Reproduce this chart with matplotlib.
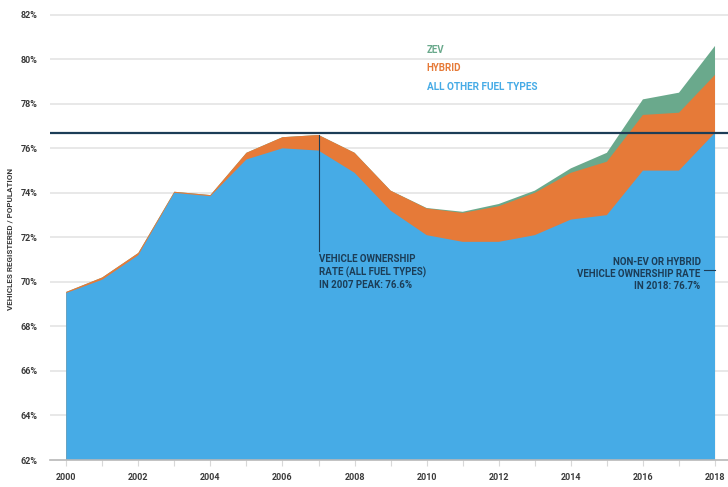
import numpy as np
import matplotlib
matplotlib.use('Agg')
import matplotlib.pyplot as plt

years = list(range(2000, 2019))
all_other = [69.5, 70.1, 71.2, 74.0, 73.85, 75.5, 76.0, 75.9, 74.9, 73.2,
             72.1, 71.8, 71.8, 72.1, 72.8, 73.0, 75.0, 75.0, 76.7]
hybrid = [0.05, 0.1, 0.1, 0.05, 0.05, 0.3, 0.5, 0.7, 0.9, 0.9,
          1.2, 1.3, 1.6, 1.9, 2.1, 2.4, 2.5, 2.6, 2.6]
zev = [0, 0, 0, 0, 0, 0, 0, 0, 0, 0,
       0.02, 0.05, 0.1, 0.1, 0.2, 0.4, 0.7, 0.9, 1.3]
peak_2007 = 76.6
rate_2018 = 76.7

c_blue = '#46abe6'
c_orange = '#e67a38'
c_green = '#6aa98c'
c_navy = '#1c3d57'
c_tick = '#3a3a3a'

plt.rcParams['font.family'] = ['Roboto', 'DejaVu Sans']

fig = plt.figure(figsize=(7.28, 4.87), dpi=100)
ax = fig.add_axes([0.0687, 0.0554, 0.9313, 0.928])

x = np.array(years)
a = np.array(all_other)
h = a + np.array(hybrid)
z = h + np.array(zev)

ax.fill_between(x, 0, z, color=c_green, lw=0, zorder=2)
ax.fill_between(x, 0, h, color=c_orange, lw=0, zorder=3)
ax.fill_between(x, 0, a, color=c_blue, lw=0, zorder=4)

for yv in range(64, 83, 2):
    ax.axhline(yv, color='#e4e4e4', lw=1.2, zorder=1)

ax.axhline(rate_2018, color=c_navy, lw=1.6, zorder=6)
ax.plot([2007, 2007], [71.4, peak_2007], color=c_navy, lw=0.8, zorder=6)
ax.plot([2017.7, 2018], [70.55, 70.55], color=c_navy, lw=0.8, zorder=6)

ax.text(2007.0, 71.25,
        'VEHICLE OWNERSHIP\nRATE (ALL FUEL TYPES)\nIN 2007 PEAK: 76.6%',
        color=c_navy, fontsize=7, fontweight='bold', va='top', ha='left',
        linespacing=1.25, zorder=7)
ax.text(2017.6, 71.1,
        'NON-EV OR HYBRID\nVEHICLE OWNERSHIP RATE\nIN 2018: 76.7%',
        color=c_navy, fontsize=7, fontweight='bold', va='top', ha='right',
        linespacing=1.25, zorder=7)

ax.text(2010.0, 80.4, 'ZEV', color=c_green, fontsize=7, fontweight='bold', va='center')
ax.text(2010.0, 79.6, 'HYBRID', color=c_orange, fontsize=7, fontweight='bold', va='center')
ax.text(2010.0, 78.75, 'ALL OTHER FUEL TYPES', color=c_blue, fontsize=7.2, fontweight='bold', va='center')

ax.set_xlim(1999.55, 2018.36)
ax.set_ylim(62, 82.3)
ax.set_yticks(range(62, 83, 2))
ax.set_yticklabels([f'{v}%' for v in range(62, 83, 2)])
ax.set_xticks(years)
ax.set_xticklabels([str(yv) if yv % 2 == 0 else '' for yv in years])
ax.tick_params(axis='y', length=0, labelsize=6.5, colors=c_tick, pad=9)
ax.tick_params(axis='x', length=4, width=0.8, color='#d8d8d8', labelsize=6.5,
               labelcolor=c_tick, pad=5)
for lab in ax.get_xticklabels() + ax.get_yticklabels():
    lab.set_fontweight('bold')

for s in ['top', 'right', 'left']:
    ax.spines[s].set_visible(False)
ax.spines['bottom'].set_color('#b8b8b8')
ax.spines['bottom'].set_linewidth(1.2)
ax.spines['bottom'].set_zorder(8)

fig.text(0.014, 0.51, 'VEHICLES REGISTERED / POPULATION', rotation=90,
         fontsize=5.8, fontweight='bold', color=c_tick, va='center', ha='center')

fig.savefig('out.png', dpi=100)
